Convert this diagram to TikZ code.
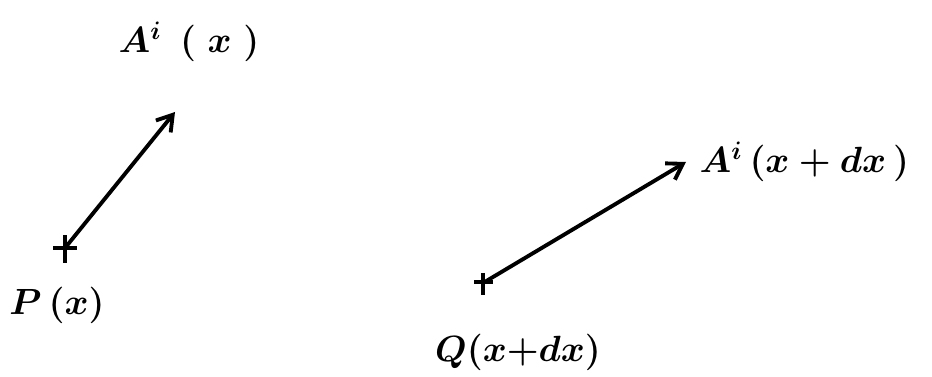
\documentclass[tikz,border=0pt]{standalone}
\usepackage{amsmath}
\usepackage{tikz}
\usetikzlibrary{arrows.meta,positioning,calc}

\begin{document}
\begin{tikzpicture}[
  every node/.style={font=\huge\boldmath},
  vec/.style={-{Straight Barb[length=3mm,width=3.8mm]},line width=2.2pt,line cap=round},
  tick/.style={line width=2pt}
]
\useasboundingbox (0,0) rectangle (18.64,7.54);
\coordinate (P) at (1.30,2.58);
\coordinate (Q) at (9.66,1.88);
\coordinate (AP) at (3.50,5.30);
\coordinate (AQ) at (13.72,4.30);

\draw[tick] ($(P)+(-0.24,0)$) -- ($(P)+(0.24,0)$);
\draw[tick] ($(P)+(0,0.25)$) -- ($(P)+(0,-0.3)$);
\draw[tick] ($(Q)+(-0.18,0.02)$) -- ($(Q)+(0.2,0.02)$);
\draw[tick] ($(Q)+(0,0.2)$) -- ($(Q)+(0,-0.25)$);

\draw[vec] (P) -- (AP);
\draw[vec] (Q) -- (AQ);

\node (lP) at (1.14,1.44) {$P\,(x)$};
\node (lQ) at (10.36,0.50) {$Q(x{+}dx)$};
\node (lAP) at (3.78,6.70) {$A^{i}\;\,(\;x\;)$};
\node[right=0.15 of AQ] (lAQ) {$A^{i}\,(x+dx\,)$};
\end{tikzpicture}
\end{document}
